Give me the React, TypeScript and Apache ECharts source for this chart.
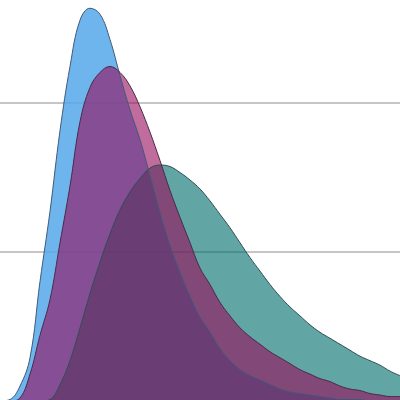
import React, { useEffect, useRef } from "react";
import * as echarts from "echarts";

// x positions (shared by all three curves)
const xs: number[] = [
  0, 0.25, 0.5, 0.75, 1, 1.25, 1.5, 1.75, 2, 2.25, 2.5, 2.75, 3, 3.25, 3.5, 3.75, 4, 4.25, 4.5, 4.75,
  5, 5.25, 5.5, 5.75, 6, 6.25, 6.5, 6.75, 7, 7.25, 7.5, 7.75, 8, 8.25, 8.5, 8.75, 9, 9.25, 9.5, 9.75, 10,
];

const blueValues: number[] = [
  0, 0.01, 0.1, 0.29, 0.8, 1.27, 1.81, 2.24, 2.55, 2.63, 2.59, 2.42, 2.18, 1.95, 1.75, 1.51, 1.26, 1.04,
  0.86, 0.7, 0.56, 0.46, 0.35, 0.27, 0.21, 0.17, 0.14, 0.11, 0.08, 0.06, 0.05, 0.04, 0.03, 0.02, 0.01,
  0.01, 0.01, 0, 0, 0, 0,
];

const pinkValues: number[] = [
  0, 0, 0.02, 0.18, 0.44, 0.68, 1.06, 1.44, 1.87, 2.1, 2.2, 2.24, 2.2, 2.11, 1.97, 1.8, 1.61, 1.41, 1.23,
  1.06, 0.89, 0.78, 0.66, 0.57, 0.49, 0.43, 0.38, 0.33, 0.29, 0.25, 0.21, 0.18, 0.15, 0.13, 0.1, 0.08,
  0.07, 0.05, 0.04, 0.03, 0.03,
];

const tealValues: number[] = [
  0, 0, 0, 0, 0, 0.01, 0.11, 0.27, 0.49, 0.72, 0.93, 1.12, 1.28, 1.4, 1.49, 1.56, 1.58, 1.57, 1.53, 1.48,
  1.42, 1.34, 1.25, 1.16, 1.06, 0.96, 0.87, 0.78, 0.7, 0.63, 0.57, 0.51, 0.46, 0.42, 0.38, 0.34, 0.3,
  0.27, 0.24, 0.2, 0.17,
];

const yTicks = { min: 0, max: 3, interval: 1 };

function pairs(vals: number[]): number[][] {
  return xs.map((x, i) => [x, vals[i]]);
}

export default function App() {
  const ref = useRef<HTMLDivElement>(null);
  useEffect(() => {
    if (!ref.current) return;
    const chart = echarts.init(ref.current, undefined, { renderer: "svg" });
    const mk = (name: string, vals: number[], color: string, opacity: number, line: string) => ({
      name,
      type: "line",
      data: pairs(vals),
      smooth: 0.4,
      showSymbol: false,
      symbol: "none",
      lineStyle: { color: line, width: 1 },
      areaStyle: { color, opacity },
      itemStyle: { color },
    });
    chart.setOption({
      animation: false,
      grid: { left: 0, right: 0, top: 0, bottom: 0 },
      xAxis: {
        type: "value",
        min: 0,
        max: 10,
        show: false,
      },
      yAxis: {
        type: "value",
        min: yTicks.min,
        max: yTicks.max,
        interval: yTicks.interval,
        axisLine: { show: false },
        axisTick: { show: false },
        axisLabel: { show: false },
        splitLine: { show: true, lineStyle: { color: "#b3b3b3", width: 1.5 } },
      },
      series: [
        mk("blue", blueValues, "#55a8eb", 0.85, "#3f5a78"),
        mk("teal", tealValues, "#006e6e", 0.62, "#2f4f50"),
        mk("pink", pinkValues, "#960a5a", 0.6, "#4a2a48"),
      ],
    });
    return () => chart.dispose();
  }, []);
  return (
    <div style={{ position: "fixed", left: 0, top: 0, width: 400, height: 400, overflow: "hidden", background: "#fff" }}>
      <div
        ref={ref}
        style={{ position: "absolute", left: 0, top: -47, width: 400, height: 448 }}
      />
    </div>
  );
}
